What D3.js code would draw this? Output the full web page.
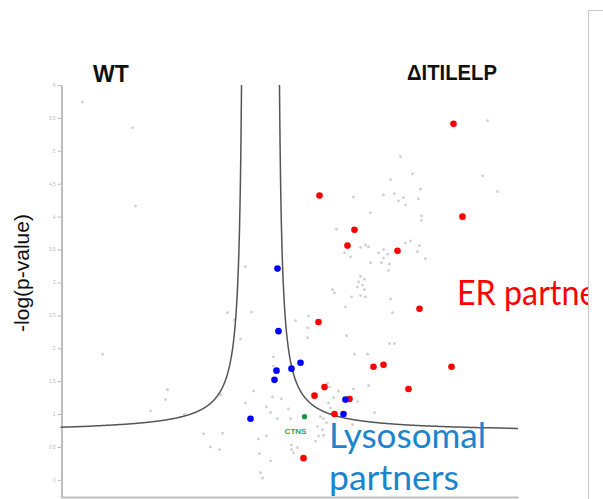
<!DOCTYPE html>
<html>
<head>
<meta charset="utf-8">
<script src="https://cdn.jsdelivr.net/npm/d3@7"></script>
<style>
html,body{margin:0;padding:0;background:#fff;}
svg{display:block;}
</style>
</head>
<body>
<svg id="chart" width="603" height="499"></svg>
<script>
// ---------- DATA (log2 fold change, -log10 p-value) ----------
const yTickValues = [0, 0.5, 1, 1.5, 2, 2.5, 3, 3.5, 4, 4.5, 5, 5.5, 6];
const yTickLabels = ["0", "0.5", "1", "1.5", "2", "2.5", "3", "3.5", "4", "4.5", "5", "5.5", "6"];

const otherProteins = [
  [2.80,4.91],[3.04,4.65],[4.44,4.62],[2.60,4.56],[3.20,4.42],[4.74,4.38],[1.86,4.30],[2.46,4.33],
  [2.68,4.35],[2.86,4.29],[2.76,4.24],[3.16,4.27],[2.90,4.18],[2.20,4.06],[3.22,4.01],[3.22,3.94],
  [1.52,3.81],[3.00,3.63],[2.90,3.60],[3.18,3.56],[2.10,3.57],[2.16,3.54],[2.00,3.53],[2.46,3.50],
  [2.36,3.45],[2.54,3.43],[1.68,3.45],[1.80,3.39],[2.46,3.37],[3.14,3.47],[3.30,3.36],[2.20,3.30],
  [2.42,3.30],[2.58,3.28],[-0.30,3.24],[2.56,3.18],[2.00,3.09],[2.08,3.05],[1.96,3.01],[2.04,2.96],
  [1.94,2.93],[1.44,2.89],[1.48,2.84],[2.08,2.89],[2.00,2.80],[2.10,2.78],[1.82,2.78],[2.60,2.75],
  [1.70,2.63],[2.64,2.54],[-0.66,2.54],[-0.18,2.55],[-0.52,2.43],[0.96,2.49],[0.70,2.42],[0.94,2.31],
  [-0.40,2.14],[0.94,2.16],[1.72,2.19],[2.58,2.07],[2.68,2.07],[1.88,1.91],[2.14,1.91],[0.26,1.87],
  [0.26,1.73],[2.16,1.43],[1.34,1.47],[1.38,1.41],[1.56,1.35],[1.86,1.38],[1.46,1.25],[-0.14,1.35],
  [0.42,1.23],[0.24,1.26],[0.12,1.11],[0.56,1.08],[1.36,1.17],[1.40,1.09],[1.94,1.19],[1.50,0.97],
  [1.20,0.96],[1.26,0.93],[1.32,0.87],[1.84,0.84],[2.28,1.02],[0.20,1.02],[0.34,0.93],[0.60,0.93],
  [1.14,0.81],[1.24,0.76],[1.26,0.68],[1.16,0.67],[-1.14,0.70],[-0.76,0.71],[-0.04,0.62],[0.12,0.67],
  [1.10,0.59],[-1.00,0.50],[-0.82,0.46],[0.62,0.53],[0.74,0.49],[0.62,0.46],[0.66,0.41],[-0.02,0.40],
  [0.20,0.29],[0.00,0.11],[0.04,0.03],[-3.56,5.74],[-2.56,5.35],[-2.50,4.16],[-3.16,1.91],[-1.86,1.37],
  [-1.90,1.22],[-2.20,1.05],[-1.52,1.00],[4.54,5.46],[-0.30,1.17],[-0.80,1.29]
];

const erPartners = [
  [3.86,5.41],[1.18,4.32],[4.04,4.00],[1.88,3.80],[1.74,3.56],[2.74,3.48],[3.18,2.60],[1.16,2.40],
  [2.26,1.72],[2.46,1.75],[3.82,1.72],[1.28,1.41],[2.96,1.38],[1.08,1.28],[1.78,1.23],[1.48,1.00],
  [0.86,0.33]
];

const lysosomalPartners = [
  [0.34,3.21],[0.36,2.26],[0.80,1.78],[0.32,1.66],[0.62,1.69],[0.28,1.52],[1.70,1.22],[1.66,1.00],
  [-0.20,0.93]
];

const ctns = [[0.88,0.96]];

// significance threshold curve parameters: y = s0 + c / (|x| - x0)
const threshold = {c: 0.3, x0: 0.323, s0: 0.72};

// ---------- CHART ----------
const svg = d3.select("#chart");

const x = d3.scaleLinear().domain([-4, 5.15]).range([60.5, 518]);
const y = d3.scaleLinear().domain([-0.26, 6]).range([497, 85]);

// right-hand frame of neighbouring panel
svg.append("path")
  .attr("d", "M588.5,499 V10.5 H603")
  .attr("fill", "none").attr("stroke", "#c8c8c8").attr("stroke-width", 1);

// y axis
const yAxis = d3.axisLeft(y)
  .tickValues(yTickValues)
  .tickFormat((d, i) => yTickLabels[i])
  .tickSize(4).tickSizeOuter(0).tickPadding(2);
const gy = svg.append("g").attr("transform", `translate(${x(-4) + 1},0)`).call(yAxis);
gy.select(".domain").attr("stroke", "#bdbdbd").attr("stroke-width", 2);
gy.selectAll(".tick line").attr("stroke", "#bdbdbd");
gy.selectAll(".tick text").attr("fill", "#b5b5b5").attr("font-size", 4.5)
  .attr("font-family", "Liberation Sans, Arial, sans-serif");

// x axis (baseline only)
const xAxis = d3.axisBottom(x).tickValues([]).tickSizeOuter(0);
const gx = svg.append("g").attr("transform", `translate(0,${y(-0.26)})`).call(xAxis);
gx.select(".domain").attr("stroke", "#bdbdbd").attr("stroke-width", 2);

// grey proteins
svg.append("g").selectAll("circle").data(otherProteins).join("circle")
  .attr("cx", d => x(d[0])).attr("cy", d => y(d[1])).attr("r", 1.4)
  .attr("fill", "#cfcfcf");

// threshold curves
const yTop = 6;
const xEdge = threshold.x0 + threshold.c / (yTop - threshold.s0);
const fy = xv => threshold.s0 + threshold.c / (Math.abs(xv) - threshold.x0);
const line = d3.line().x(d => x(d)).y(d => y(fy(d)));
const leftXs = d3.range(0, 401).map(i => -4 + (-xEdge + 4) * Math.pow(i / 400, 0.35));
const rightXs = d3.range(0, 401).map(i => 5.15 - (5.15 - xEdge) * Math.pow(i / 400, 0.35)).reverse();
svg.append("path").datum(leftXs).attr("d", line)
  .attr("fill", "none").attr("stroke", "#555").attr("stroke-width", 1.5);
svg.append("path").datum(rightXs).attr("d", line)
  .attr("fill", "none").attr("stroke", "#555").attr("stroke-width", 1.5);

// ER partners
svg.append("g").selectAll("circle").data(erPartners).join("circle")
  .attr("cx", d => x(d[0])).attr("cy", d => y(d[1])).attr("r", 3.3)
  .attr("fill", "#ff0000");

// lysosomal partners
svg.append("g").selectAll("circle").data(lysosomalPartners).join("circle")
  .attr("cx", d => x(d[0])).attr("cy", d => y(d[1])).attr("r", 3.3)
  .attr("fill", "#0000ff");

// CTNS
svg.append("g").selectAll("circle").data(ctns).join("circle")
  .attr("cx", d => x(d[0])).attr("cy", d => y(d[1])).attr("r", 2.6)
  .attr("fill", "#119944");
svg.append("text").attr("x", x(ctns[0][0]) - 9).attr("y", y(ctns[0][1]) + 17)
  .attr("text-anchor", "middle").attr("font-family", "Liberation Sans, Arial, sans-serif")
  .attr("font-size", 8).attr("font-weight", "bold").attr("fill", "#22aa55").text("CTNS");

// titles
svg.append("text").attr("x", 93).attr("y", 82)
  .attr("font-family", "Liberation Sans, Arial, sans-serif").attr("font-size", 23)
  .attr("font-weight", "bold").attr("fill", "#111").text("WT");
svg.append("text").attr("x", 407).attr("y", 80)
  .attr("font-family", "Liberation Sans, Arial, sans-serif").attr("font-size", 22)
  .attr("font-weight", "bold").attr("fill", "#111")
  .attr("textLength", 90).attr("lengthAdjust", "spacingAndGlyphs").text("\u0394ITILELP");

// y label
svg.append("text").attr("transform", "translate(29,273) rotate(-90)")
  .attr("text-anchor", "middle").attr("font-family", "Liberation Sans, Arial, sans-serif")
  .attr("font-size", 21).attr("fill", "#111").text("-log(p-value)");

// annotations
svg.append("clipPath").attr("id", "clipR").append("rect")
  .attr("x", 0).attr("y", 0).attr("width", 588).attr("height", 499);
svg.append("text").attr("x", 457).attr("y", 305).attr("clip-path", "url(#clipR)")
  .attr("font-family", "Lato, sans-serif").attr("font-size", 35)
  .attr("textLength", 165).attr("lengthAdjust", "spacingAndGlyphs")
  .attr("fill", "#ff0000").text("ER partners");
svg.append("text").attr("x", 329).attr("y", 448)
  .attr("font-family", "Lato, sans-serif").attr("font-size", 35)
  .attr("textLength", 157).attr("lengthAdjust", "spacingAndGlyphs")
  .attr("fill", "#1b84cf").text("Lysosomal");
svg.append("text").attr("x", 329).attr("y", 490)
  .attr("font-family", "Lato, sans-serif").attr("font-size", 35)
  .attr("textLength", 130).attr("lengthAdjust", "spacingAndGlyphs")
  .attr("fill", "#1b84cf").text("partners");
</script>
</body>
</html>
